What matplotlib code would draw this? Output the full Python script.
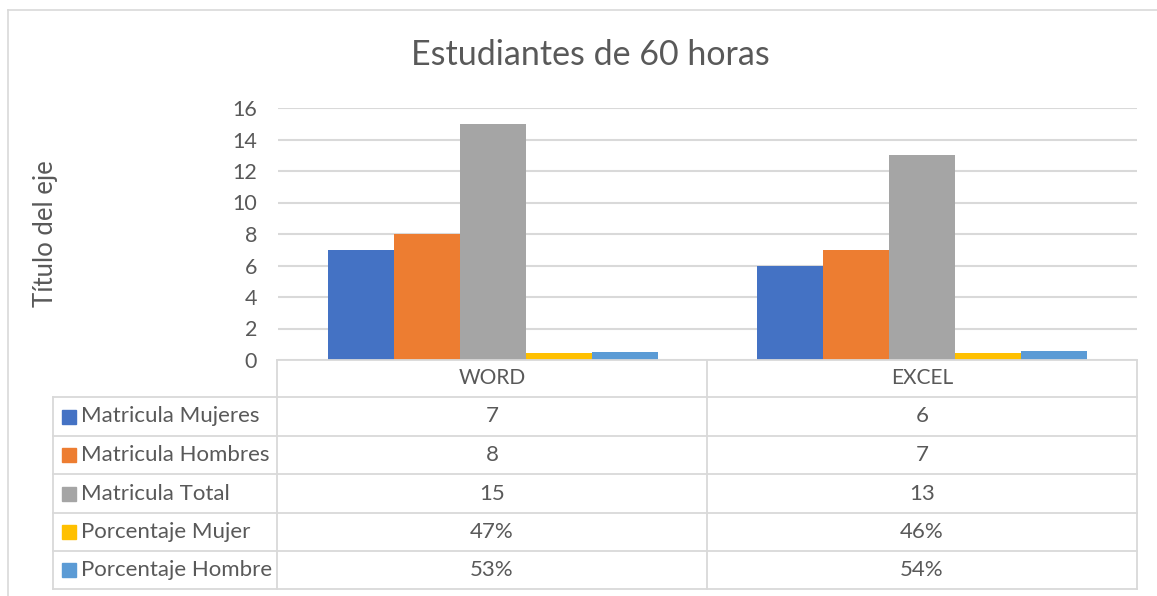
import matplotlib.pyplot as plt
from matplotlib.lines import Line2D
from matplotlib.patches import Rectangle

# data
cursos = ["WORD", "EXCEL"]
series = ["Matricula Mujeres", "Matricula Hombres", "Matricula Total",
          "Porcentaje Mujer", "Porcentaje Hombre"]
mujeres = [7, 6]
hombres = [8, 7]
total = [15, 13]
pct_mujer = [0.47, 0.46]
pct_hombre = [0.53, 0.54]

colores = ["#4472C4", "#ED7D31", "#A5A5A5", "#FFC000", "#5B9BD5"]
valores = [mujeres, hombres, total, pct_mujer, pct_hombre]
es_pct = [False, False, False, True, True]

txt = "#595959"
grid = "#D9D9D9"
fuente = "Lato"

W, H = 1157, 596
fig = plt.figure(figsize=(W / 100, H / 100), dpi=100)


def fx(px):
    return px / W


def fy(py):
    return 1 - py / H


# chart border (left and top visible)
fig.add_artist(Line2D([fx(8), fx(8)], [fy(10), 0], color=grid, lw=1.2))
fig.add_artist(Line2D([fx(8), 1], [fy(10), fy(10)], color=grid, lw=1.2))

# plot area
x0, x1, ytop, ybot = 278, 1137, 108, 360
ax = fig.add_axes([fx(x0), fy(ybot), fx(x1 - x0), fy(ytop) - fy(ybot)])
ancho = 66 / 430
for i, (s, vals) in enumerate(zip(series, valores)):
    pos = [k + (i - 2) * ancho for k in range(len(cursos))]
    ax.bar(pos, vals, width=ancho, color=colores[i], zorder=3)
ax.set_xlim(-0.5, len(cursos) - 0.5)
ax.set_ylim(0, 16)
ax.set_yticks(range(0, 17, 2))
ax.yaxis.grid(True, color=grid, lw=1.5)
ax.set_axisbelow(True)
for sp in ax.spines.values():
    sp.set_visible(False)
ax.set_xticks([])
ax.tick_params(axis="y", length=0, pad=15, labelsize=15.5, labelcolor=txt)
for lab in ax.get_yticklabels():
    lab.set_fontfamily(fuente)
ax.set_ylabel("Título del eje", fontsize=18.5, color=txt, fontfamily=fuente)
ax.yaxis.set_label_coords((58 - x0) / (x1 - x0), 0.5)

fig.text(fx(590), fy(55), "Estudiantes de 60 horas", ha="center", va="center",
         fontsize=24.5, color=txt, fontfamily=fuente)

# data table
filas = [360, 397, 436, 474, 513, 551, 589]
cols = [53, 277, 707, 1137]
lw = 1.3
fig.add_artist(Line2D([fx(277), fx(1137)], [fy(360), fy(360)], color=grid, lw=lw))
for y in filas[1:]:
    fig.add_artist(Line2D([fx(53), fx(1137)], [fy(y), fy(y)], color=grid, lw=lw))
fig.add_artist(Line2D([fx(53), fx(53)], [fy(397), fy(589)], color=grid, lw=lw))
for x in cols[1:]:
    fig.add_artist(Line2D([fx(x), fx(x)], [fy(360), fy(589)], color=grid, lw=lw))

for j, c in enumerate(cursos):
    cx = (cols[j + 1] + cols[j + 2]) / 2
    fig.text(fx(cx), fy((filas[0] + filas[1]) / 2), c, ha="center", va="center",
             fontsize=15, color=txt, fontfamily=fuente)

for i, s in enumerate(series):
    cy = (filas[i + 1] + filas[i + 2]) / 2
    fig.add_artist(Rectangle((fx(62), fy(cy + 7)), fx(14), fy(cy - 7) - fy(cy + 7),
                             color=colores[i]))
    fig.text(fx(81), fy(cy), s, ha="left", va="center", fontsize=16,
             color=txt, fontfamily=fuente)
    for j in range(len(cursos)):
        v = valores[i][j]
        t = f"{round(v * 100)}%" if es_pct[i] else str(v)
        cx = (cols[j + 1] + cols[j + 2]) / 2
        fig.text(fx(cx), fy(cy), t, ha="center", va="center", fontsize=16,
                 color=txt, fontfamily=fuente)

fig.savefig("out.png", dpi=100)
